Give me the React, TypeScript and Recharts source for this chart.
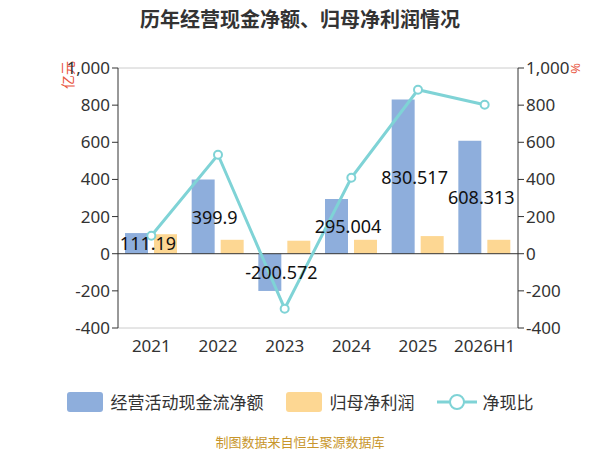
import React from 'react';
import { ComposedChart, Bar, Line, XAxis, YAxis, CartesianGrid, LabelList, ReferenceLine } from 'recharts';

const categories = ['2021', '2022', '2023', '2024', '2025', '2026H1'];
const cashFlow = [111.19, 399.9, -200.572, 295.004, 830.517, 608.313];
const netProfit = [105, 75, 70, 75, 95, 75];
const ratio = [97, 533, -296, 409, 883, 802];
const ticks = [-400, -200, 0, 200, 400, 600, 800, 1000];

const data = categories.map((c, i) => ({ name: c, cf: cashFlow[i], np: netProfit[i], r: ratio[i] }));

if (typeof document !== 'undefined') document.body.style.margin = '0';

const fmt = (v: number) => v.toLocaleString('en-US');
const font = '"Noto Sans", "Noto Sans CJK SC", sans-serif';

const MidLabel = (p: any) => {
  const { x, y, width, height, value } = p;
  return (
    <text x={x + width} y={y + height / 2} textAnchor="middle" dominantBaseline="central" fontSize={18} fill="#111" fontFamily={font}>
      {value}
    </text>
  );
};

export default function App() {
  return (
    <div style={{ position: 'relative', width: 600, height: 450, background: '#fff', fontFamily: font }}>
      <div style={{ position: 'absolute', top: 4, width: 600, textAlign: 'center', fontSize: 20, fontWeight: 'bold', color: '#333' }}>
        历年经营现金净额、归母净利润情况
      </div>
      <div style={{ position: 'absolute', left: 54, top: 68, color: '#e8553e', fontSize: 14, transform: 'rotate(-90deg)', lineHeight: '14px' }}>亿元</div>
      <div style={{ position: 'absolute', left: 570, top: 62, color: '#e8553e', fontSize: 13, transform: 'rotate(90deg)', lineHeight: '13px' }}>%</div>
      <ComposedChart width={600} height={420} data={data} margin={{ top: 68, right: 22, left: 58, bottom: 58 }} barSize={23} barGap={6}
        style={{ fontFamily: font }}>
        <CartesianGrid vertical={false} stroke="#ccc" />
        <XAxis dataKey="name" axisLine={false} tickLine={false} tick={{ fontSize: 17, fill: '#333' }} dy={4} height={34} />
        <YAxis yAxisId="l" domain={[-400, 1000]} ticks={ticks} tickFormatter={fmt} axisLine={{ stroke: '#333' }} tickLine={{ stroke: '#333' }} tick={{ fontSize: 17, fill: '#333' }} width={60} interval={0} />
        <YAxis yAxisId="r" orientation="right" domain={[-400, 1000]} ticks={ticks} tickFormatter={fmt} axisLine={{ stroke: '#333' }} tickLine={{ stroke: '#333' }} tick={{ fontSize: 17, fill: '#333' }} width={60} interval={0} />
        <ReferenceLine yAxisId="l" y={0} stroke="#333" />
        <Bar yAxisId="l" dataKey="cf" name="经营活动现金流净额" fill="#8eaedc" isAnimationActive={false}>
          <LabelList dataKey="cf" content={<MidLabel />} />
        </Bar>
        <Bar yAxisId="l" dataKey="np" name="归母净利润" fill="#fdd793" isAnimationActive={false} />
        <Line yAxisId="r" dataKey="r" name="净现比" stroke="#7fd3d6" strokeWidth={3} dot={{ r: 4, fill: '#fff', stroke: '#7fd3d6', strokeWidth: 2 }} isAnimationActive={false} />
      </ComposedChart>
      <div style={{ position: 'absolute', top: 389, width: 600, display: 'flex', justifyContent: 'center', alignItems: 'center', fontSize: 17, color: '#333', gap: 22 }}>
        <span style={{ display: 'flex', alignItems: 'center' }}><span style={{ width: 36, height: 20, background: '#8eaedc', borderRadius: 3, marginRight: 8 }} />经营活动现金流净额</span>
        <span style={{ display: 'flex', alignItems: 'center' }}><span style={{ width: 36, height: 20, background: '#fdd793', borderRadius: 3, marginRight: 8 }} />归母净利润</span>
        <span style={{ display: 'flex', alignItems: 'center' }}>
          <svg width={40} height={20} style={{ marginRight: 6 }}><line x1={0} y1={10} x2={40} y2={10} stroke="#7fd3d6" strokeWidth={3} /><circle cx={20} cy={10} r={7} fill="#fff" stroke="#7fd3d6" strokeWidth={2} /></svg>净现比</span>
      </div>
      <div style={{ position: 'absolute', top: 432, width: 600, textAlign: 'center', fontSize: 13, color: '#c8962c' }}>
        制图数据来自恒生聚源数据库
      </div>
    </div>
  );
}
